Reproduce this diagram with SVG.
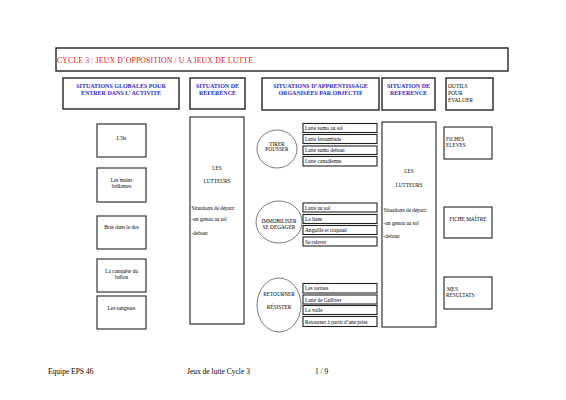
<svg xmlns="http://www.w3.org/2000/svg" width="566" height="400" viewBox="0 0 566 400">
<style>
text{font-family:"Liberation Serif","Times New Roman",serif;fill:#000}
.hb{fill:#fff;stroke:#222;stroke-width:1.4}
.b{fill:#fff;stroke:#222;stroke-width:1.1}
.c{fill:#fff;stroke:#444;stroke-width:0.7}
.h{font-size:6px;font-weight:bold;fill:#2a2ad0;text-anchor:middle}
.t{font-size:5.3px}
.m{text-anchor:middle}
.o{font-size:5.5px}
.f{font-size:7.5px}
</style>
<rect width="566" height="400" fill="#fff"/>
<g id="title">
<rect class="hb" x="56" y="48" width="452" height="23"/>
<text x="57" y="63" font-size="7.8" fill="#e02020" style="fill:#e02020" textLength="196">CYCLE  3 : JEUX D’OPPOSITION / U A JEUX DE  LUTTE</text>
</g>
<g id="h1"><rect class="hb" x="63" y="78" width="116" height="31"/><text class="h" x="121" y="88">SITUATIONS GLOBALES POUR</text><text class="h" x="121" y="95">ENTRER DANS L’ ACTIVITE</text></g>
<g id="h2"><rect class="hb" x="190" y="78" width="55" height="31"/><text class="h" x="217.5" y="88">SITUATION DE</text><text class="h" x="217.5" y="95">REFERENCE</text></g>
<g id="h3"><rect class="hb" x="262" y="78" width="117" height="32"/><text class="h" x="320.5" y="88">SITUATIONS D’APPRENTISSAGE</text><text class="h" x="320.5" y="95">ORGANISÉES PAR OBJECTIF</text></g>
<g id="h4"><rect class="hb" x="382" y="78" width="53" height="32"/><text class="h" x="408.5" y="88">SITUATION DE</text><text class="h" x="408.5" y="95">REFERENCE</text></g>
<g id="h5"><rect class="hb" x="446" y="78" width="47" height="32"/><text class="o" x="448" y="88">OUTILS</text><text class="o" x="448" y="95">POUR</text><text class="o" x="448" y="102">ÉVALUER</text></g>

<g id="g1"><rect class="b" x="97" y="124" width="49" height="33"/><text class="t m" x="121.5" y="140">L’île</text></g>
<g id="g2"><rect class="b" x="97" y="168" width="49" height="34"/><text class="t m" x="121.5" y="182">Les mains</text><text class="t m" x="121.5" y="188">brûlantes</text></g>
<g id="g3"><rect class="b" x="97" y="216" width="49" height="33"/><text class="t m" x="121.5" y="229">Bras dans le dos</text></g>
<g id="g4"><rect class="b" x="97" y="259" width="49" height="33"/><text class="t m" x="121.5" y="273">La conquête du</text><text class="t m" x="121.5" y="279">ballon</text></g>
<g id="g5"><rect class="b" x="97" y="296" width="49" height="33"/><text class="t m" x="121.5" y="310">Les sangsues</text></g>

<g id="ref1"><rect class="b" x="190" y="117" width="54" height="207"/>
<text class="t m" x="217" y="170">LES</text><text class="t m" x="217" y="183">LUTTEURS</text>
<text class="t" x="191.5" y="210">Situations de départ:</text><text class="t" x="191.5" y="221">-un genou au sol</text><text class="t" x="191.5" y="235">-debout</text></g>

<g id="c1"><ellipse class="c" cx="277" cy="149" rx="20" ry="19"/><text class="t m" x="277" y="146">TIRER</text><text class="t m" x="277" y="151">POUSSER</text></g>
<g id="c2"><ellipse class="c" cx="279" cy="222" rx="23" ry="21"/><text class="t m" x="279" y="223">IMMOBILISER</text><text class="t m" x="279" y="229">SE DEGAGER</text></g>
<g id="c3"><ellipse class="c" cx="279" cy="305" rx="22" ry="27"/><text class="t m" x="279" y="296">RETOURNER</text><text class="t m" x="279" y="309">RÉSISTER</text></g>

<g id="s1">
<rect class="b" x="303" y="123.5" width="74" height="9"/><text class="t" x="305" y="130">Lutte sumo au sol</text>
<rect class="b" x="303" y="134.5" width="74" height="9"/><text class="t" x="305" y="141">Lutte fessambule</text>
<rect class="b" x="303" y="146" width="74" height="8.5"/><text class="t" x="305" y="152">Lutte sumo debout</text>
<rect class="b" x="303" y="156.5" width="74" height="9.5"/><text class="t" x="305" y="163">Lutte canadienne</text>
</g>
<g id="s2">
<rect class="b" x="303" y="203" width="74" height="9"/><text class="t" x="305" y="209.5">Lutte au sol</text>
<rect class="b" x="303" y="214.5" width="74" height="9"/><text class="t" x="305" y="221">La liane</text>
<rect class="b" x="303" y="225.5" width="74" height="9"/><text class="t" x="305" y="232">Anguille et crapaud</text>
<rect class="b" x="303" y="237" width="74" height="9"/><text class="t" x="305" y="243.5">Se relever</text>
</g>
<g id="s3">
<rect class="b" x="303" y="283.5" width="74" height="9.5"/><text class="t" x="305" y="290">Les tortues</text>
<rect class="b" x="303" y="295" width="74" height="9"/><text class="t" x="305" y="301.5">Lutte de Gulliver</text>
<rect class="b" x="303" y="305.5" width="74" height="9"/><text class="t" x="305" y="312">La voile</text>
<rect class="b" x="303" y="316.5" width="74" height="10"/><text class="t" x="305" y="323.5">Retourner à partir d’une prise</text>
</g>

<g id="ref2"><rect class="b" x="382" y="122" width="54" height="205"/>
<text class="t m" x="409" y="173">LES</text><text class="t m" x="409" y="187">LUTTEURS</text>
<text class="t" x="383.5" y="212">Situations de départ:</text><text class="t" x="383.5" y="225">-un genou au sol</text><text class="t" x="383.5" y="238">-debout</text></g>

<g id="o1"><rect class="b" x="444" y="127" width="48" height="32"/><text class="t" x="446" y="141">FICHES</text><text class="t" x="446" y="147">ELEVES</text></g>
<g id="o2"><rect class="b" x="444" y="207" width="48" height="31"/><text class="t m" x="468" y="221">FICHE MAÎTRE</text></g>
<g id="o3"><rect class="b" x="444" y="277" width="48" height="32"/><text class="t" x="447" y="291">MES</text><text class="t" x="446" y="297">RÉSULTATS</text></g>

<g id="connectors"></g>

<g id="footer">
<text class="f" x="48" y="374">Equipe EPS 46</text>
<text class="f" x="187" y="374">Jeux de lutte Cycle 3</text>
<text class="f" x="315" y="374">1 / 9</text>
</g>
</svg>
